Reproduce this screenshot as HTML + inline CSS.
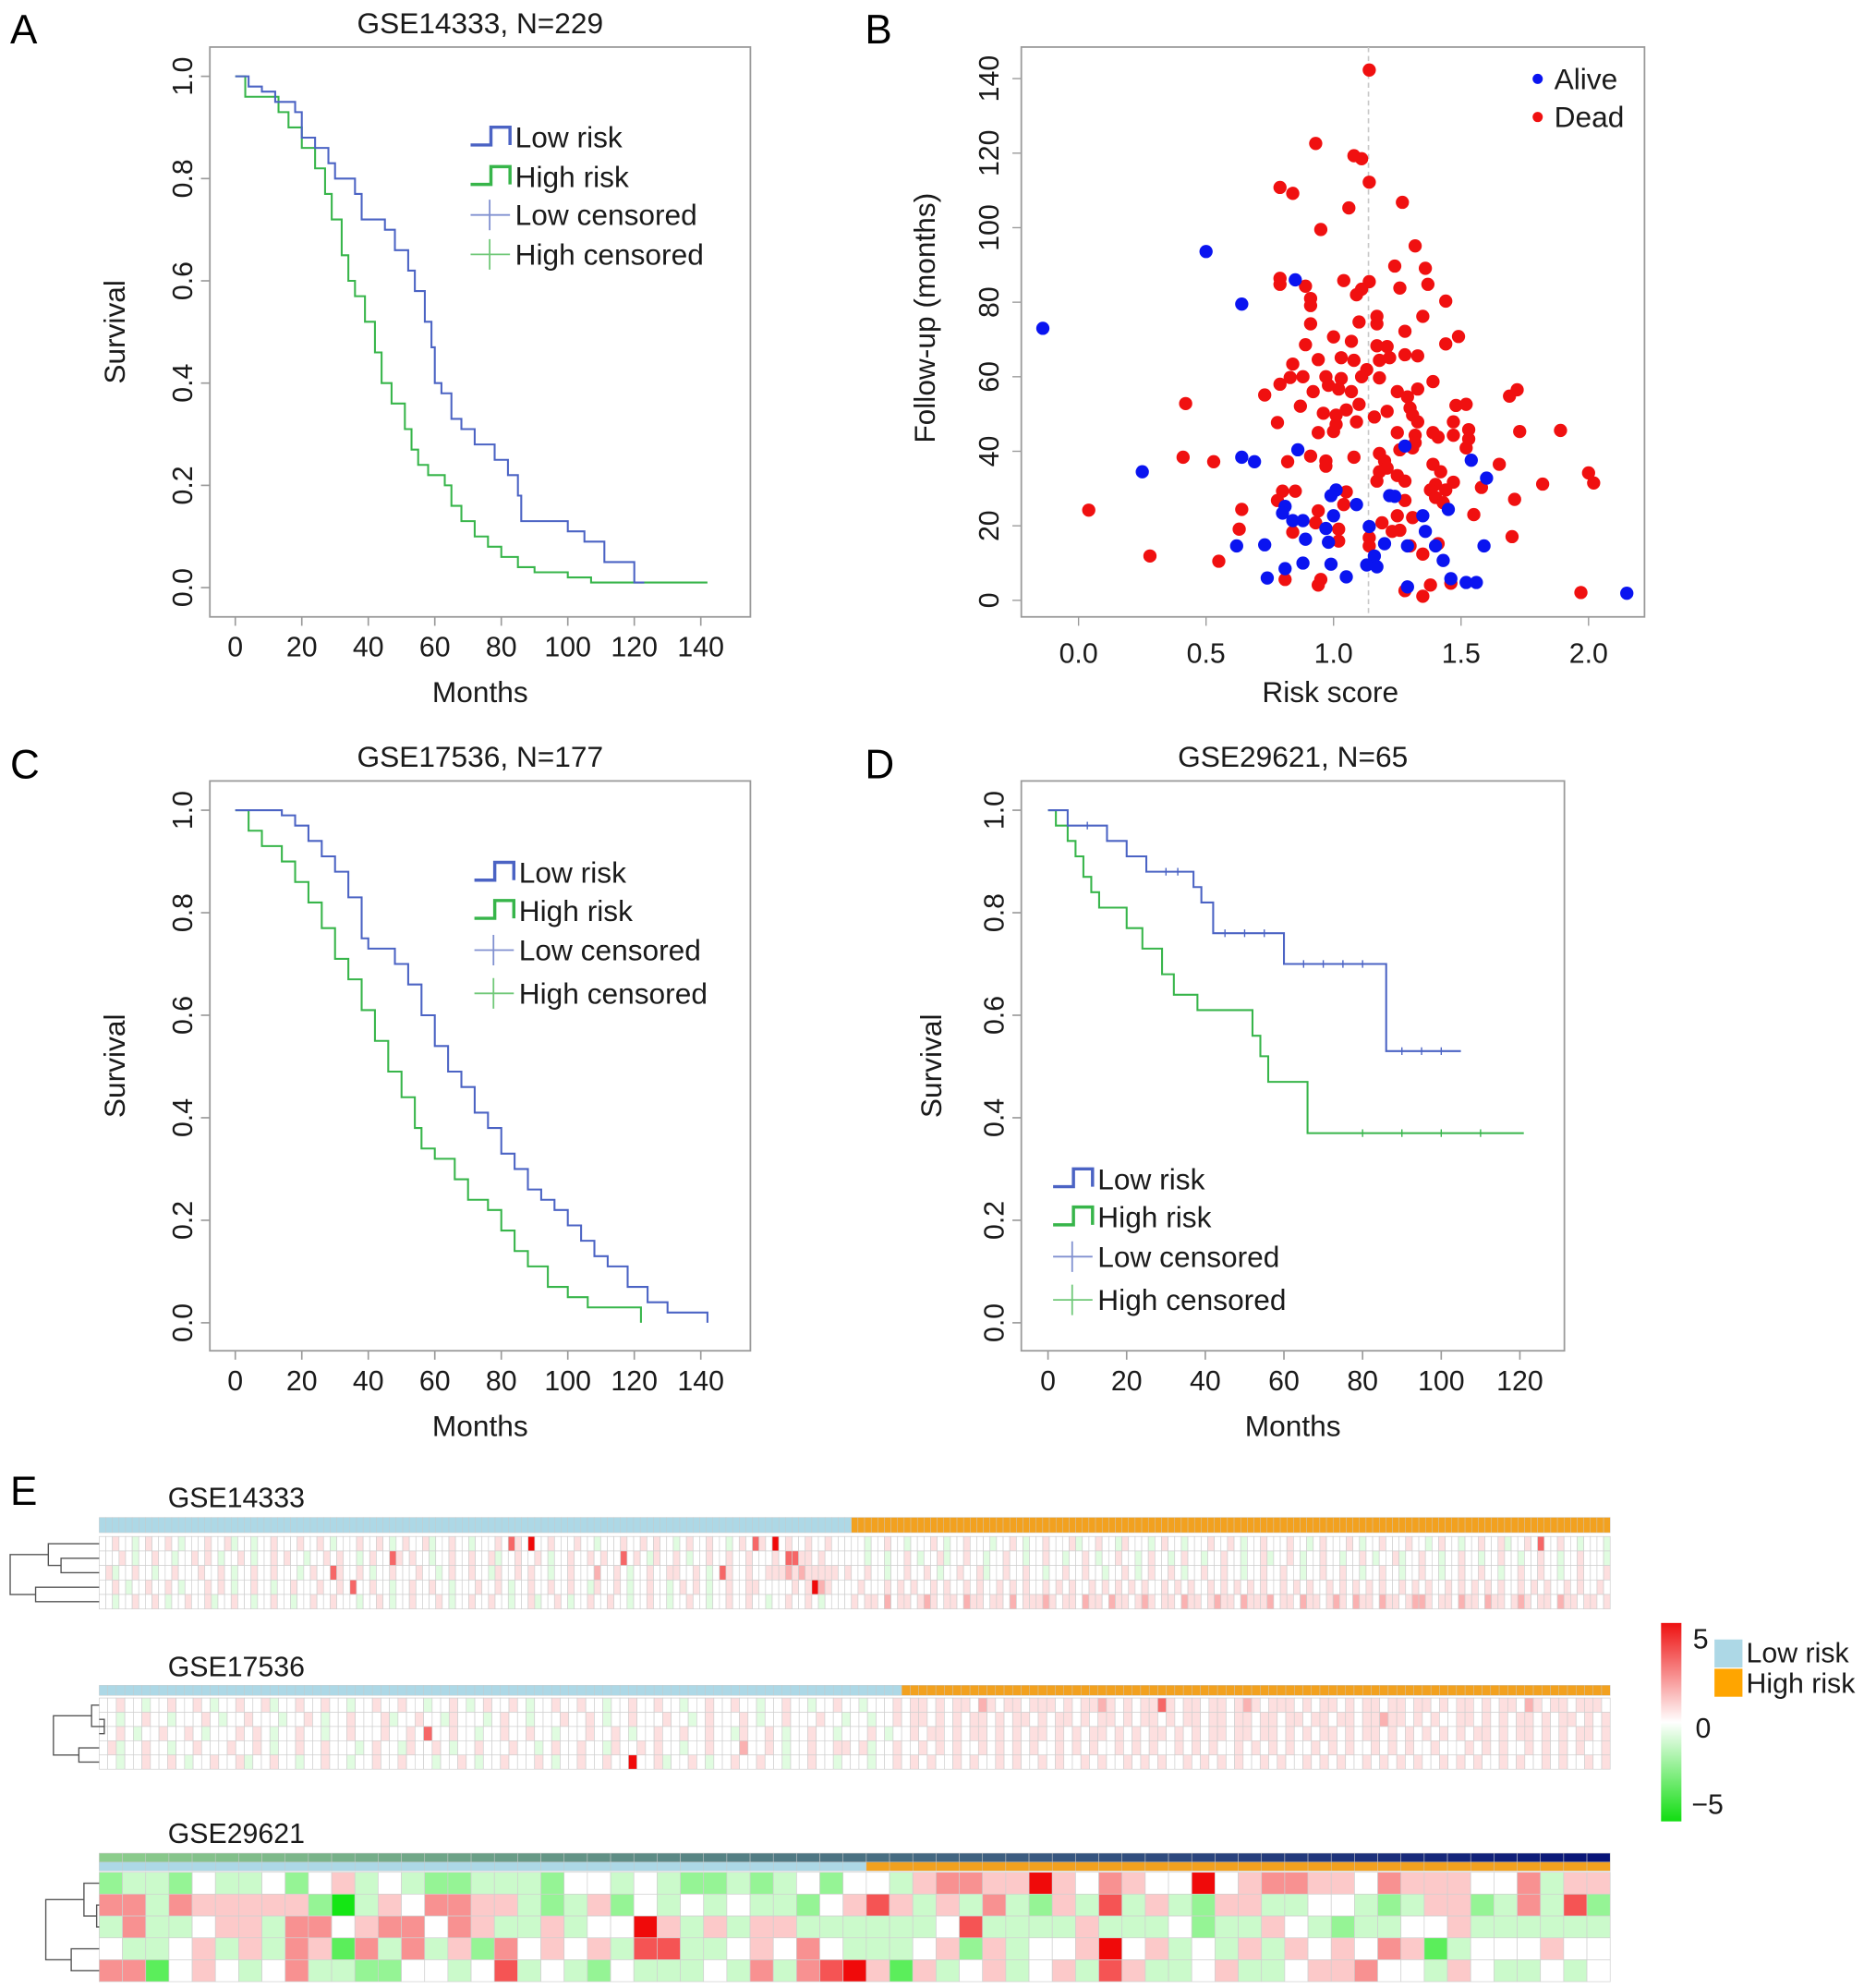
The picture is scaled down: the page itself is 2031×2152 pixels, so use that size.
<!DOCTYPE html>
<html><head><meta charset="utf-8"><title>Survival figure</title>
<style>
html,body{margin:0;padding:0;background:#fff;}
svg{display:block;font-family:"Liberation Sans",Arial,sans-serif;}
</style></head>
<body>
<svg id="fig" width="2031" height="2152" viewBox="0 0 1475 1563" preserveAspectRatio="none" xmlns="http://www.w3.org/2000/svg"></svg>
<script>
// ---------- DATA ----------
const aLowT=[0,4,8,12,18,20,24,28,30,36,38,45,48,52,54,57,59,60,62,65,68,72,78,82,85,86,100,105,111,120,123];
const aLowS=[1,0.98,0.97,0.95,0.93,0.88,0.86,0.83,0.80,0.77,0.72,0.70,0.66,0.62,0.58,0.52,0.47,0.40,0.38,0.33,0.31,0.28,0.25,0.22,0.18,0.13,0.11,0.09,0.05,0.01,0.01];
const aHighT=[0,3,13,16,20,24,27,29,32,34,36,39,42,44,47,51,53,55,58,63,65,68,72,76,80,85,90,100,107,142];
const aHighS=[1,0.96,0.93,0.90,0.86,0.82,0.77,0.72,0.65,0.60,0.57,0.52,0.46,0.40,0.36,0.31,0.27,0.24,0.22,0.20,0.16,0.13,0.10,0.08,0.06,0.04,0.03,0.02,0.01,0.01];
const cLowT=[0,14,18,22,26,30,34,38,40,48,52,56,60,64,68,72,76,80,84,88,92,96,100,104,108,112,118,124,130,142,142];
const cLowS=[1,0.99,0.97,0.94,0.91,0.88,0.83,0.75,0.73,0.70,0.66,0.60,0.54,0.49,0.46,0.41,0.38,0.33,0.30,0.26,0.24,0.22,0.19,0.16,0.13,0.11,0.07,0.04,0.02,0.02,0.0];
const cHighT=[0,4,8,14,18,22,26,30,34,38,42,46,50,54,56,60,66,70,76,80,84,88,94,100,106,122,122];
const cHighS=[1,0.96,0.93,0.90,0.86,0.82,0.77,0.71,0.67,0.61,0.55,0.49,0.44,0.38,0.34,0.32,0.28,0.24,0.22,0.18,0.14,0.11,0.07,0.05,0.03,0.03,0.0];
const dLowT=[0,5,15,20,25,37,39,42,60,86,105];
const dLowS=[1,0.97,0.94,0.91,0.88,0.85,0.82,0.76,0.70,0.53,0.53];
const dHighT=[0,2,5,7,9,11,13,20,24,29,32,38,52,54,56,66,121];
const dHighS=[1,0.97,0.94,0.91,0.87,0.84,0.81,0.77,0.73,0.68,0.64,0.61,0.56,0.52,0.47,0.37,0.37];
const dLowCens=[10,30,33,45,50,55,65,70,75,80,90,95,100];
const dHighCens=[80,90,100,110];
const aliveRisk=[0.50,-0.14,0.64,0.85,0.25,0.64,0.69,0.86,1.28,1.54,1.60,1.01,0.99,1.09,1.22,1.24,0.81,0.80,0.84,0.88,1.00,0.97,1.14,1.35,1.45,1.36,0.62,0.73,0.89,0.98,1.20,1.29,1.40,1.59,1.16,1.43,0.81,0.88,0.99,1.13,1.17,0.74,1.05,1.29,1.46,1.52,1.56,2.15];
const aliveMonths=[93.6,73,79.5,86,34.5,38.4,37.2,40.4,41.4,37.6,32.8,29.6,28.1,25.7,28.1,27.9,25.2,23.4,21.4,21.4,22.7,19.3,19.8,22.7,24.4,18.5,14.6,14.9,16.4,15.6,15.2,14.6,14.6,14.6,11.9,10.7,8.5,10,9.7,9.5,9,6,6.3,3.6,5.8,4.8,4.8,1.9];
const deadRisk=[1.14,0.93,1.08,1.11,1.14,0.79,0.84,1.27,1.06,0.95,1.32,1.24,1.36,0.79,0.79,1.04,1.14,1.11,1.09,0.89,1.26,1.37,0.91,0.91,1.44,1.35,0.91,1.10,1.17,1.17,1.28,1.00,1.07,1.49,1.44,0.89,1.17,1.21,1.28,1.33,0.94,1.03,1.08,1.18,1.22,0.84,1.13,0.83,0.88,0.97,1.03,1.11,1.18,0.79,0.92,0.98,1.02,1.07,1.39,0.73,1.25,1.29,1.33,1.69,1.72,0.42,0.87,1.05,1.10,1.30,1.48,1.52,0.96,1.01,1.21,1.16,1.31,0.78,1.01,1.09,1.33,1.47,0.94,1.00,1.25,1.32,1.39,1.41,1.47,1.53,1.53,1.73,1.89,1.32,1.52,0.41,0.53,0.82,0.91,0.97,0.97,1.08,1.18,1.20,1.26,1.31,1.39,1.42,1.65,2.00,2.02,1.18,1.21,1.25,1.17,1.28,1.47,1.82,1.40,1.38,1.44,1.58,0.80,0.85,1.05,1.40,1.28,0.78,1.04,1.71,0.64,0.04,0.94,1.43,1.55,1.25,1.31,0.93,1.02,1.19,0.63,0.84,1.23,1.26,1.02,1.14,1.70,1.14,1.30,1.41,1.35,0.28,0.55,0.81,0.95,0.94,1.38,1.46,1.28,1.35,1.97];
const deadMonths=[142.3,122.6,119.3,118.5,112.2,110.8,109.2,106.8,105.3,99.5,95.1,89.7,89.1,86.4,84.8,85.8,85.5,83.5,82,84.3,83.8,84.8,81,79.1,80.3,76.2,74.2,74.7,76.2,74.2,72.2,70.7,69.5,70.8,68.8,68.6,68.3,68.1,65.9,65.6,64.6,65.1,64.4,64.4,65.1,63.4,61.9,59.8,60,60,59.5,60,59.7,58,56,57.7,56.7,56,58.7,55.1,56,54.6,56.7,54.8,56.5,52.8,52.1,51.1,52.6,51.6,52.3,52.6,50.2,49.7,50.7,49.2,49.7,47.7,47.2,47.9,47.9,47.9,45,45.3,45,44.3,45,43.8,44.3,45.8,43.3,45.3,45.6,42.3,40.9,38.4,37.2,37.2,38.7,37.4,36,38.4,39.4,37.4,40.4,40.9,36.5,34.5,36.5,34.2,31.5,34.5,35.5,33.5,32,32,31.7,31.2,31.1,29.6,29.6,30.3,29.3,29.3,29.1,27.6,26.8,26.8,25.7,27.1,24.4,24.2,24,26.2,23,22.7,22.2,20.8,19.1,20.8,19.1,18.3,18.5,18.8,15.9,16.8,17.1,14.6,14.6,15.2,12.4,11.9,10.5,5.6,5.6,4.1,4.1,4.6,2.6,1.1,2.1];
const riskCutoff=1.137;
const hm1Low=[
"4454434544543444544534434454445445434445445434544534454434445475484454445443444544545443454454434547548454454454",
"4445434454434454543445434454544344545443454475454434454454453445445434454454544745435445434454454454445477554544",
"4534454434454445445434454454443454475445434454445443454454435445454434454446445434454455445434754454455565655555",
"4454344544543444545434454434454445445474454434454454434445445434454454454435445434454434545434454455444445458654",
"4434454454344544534454434454434454454443445434454445434454454434453445434454454434454434454434454454434454454344"];
const hm1High=[
"4434454434445434454443445434454445344544354443454434445445434454445443454445434454445443454434454453445474454434",
"4434434454344534454434454434454434454344544345443454434454434453445434454434454344534454434454434454434454434454",
"4454434454454344544534454454434454454434454345445434454454434454454434454454434454434454434454454434454454434454",
"4544454545445454454544545454454545445454545454454545445454545454454545445454545454454545445454545454454545445454",
"5455464554565455465545546455565455465546554565455465545655465556455465545654655465545665455465546554565455465545"];
const hm2Low=[
"4454434454454344544534454454434454454434454345445434454454434454454434454454434454434454434",
"4434454434445434454443445434454445344544354443454434445445434454445443454445434454445443",
"4454344544543444545434454434454445445474454434454454434445445434454454454435445434454434",
"4534454434454445445434454454443454435445434454445443454454435445454434454446445434454455",
"4434454454344544534454434454434454454443445434454445434454454484453445434454454434454434"];
const hm2High=[
"4554545546545545554545565454557545545545654555454554545545545545",
"4554545455454554545545455454554545545545545545545545545565545454",
"4545545455454545545454554545455454545545545545454554545545454545",
"4454545445454545445454544545454454545445454545445454544545454454",
"4545445454454544545445454454545445454545445454454545445454545445"];
const hm3Low=["233243342453432233324434322323424","663655555203546655323524343433245","363345536645664653353448535355333","433453536516363526454537733454643","661454346332244347343243334363678"];
const hm3High=["43566558546544845665546555446355","75353632537353255334432355236372","33347333353334233543233445333333","33452534458453435354546513444544","51534534537533453345564435433434"];

// ---------- HELPERS ----------
const svg=document.getElementById('fig');
const NS='http://www.w3.org/2000/svg';
function mk(tag,attrs,parent){const e=document.createElementNS(NS,tag);for(const k in attrs)e.setAttribute(k,attrs[k]);(parent||svg).appendChild(e);return e;}
function txt(x,y,s,size,opts){const o=Object.assign({x:x,y:y,'font-size':size,fill:'#1a1a1a'},opts||{});const t=mk('text',o);t.textContent=s;return t;}
function stepPath(ts,ss,fx,fy){let d='M'+fx(ts[0])+','+fy(ss[0]);for(let i=1;i<ts.length;i++){d+=' H'+fx(ts[i])+' V'+fy(ss[i]);}return d;}
const BLUE='#4b63c4',GREEN='#37b54a',AXIS='#9a9a9a';

function kmPanel(p){
  const g=mk('g',{});
  
  
  const box=mk('rect',{x:p.L,y:p.T,width:p.R-p.L,height:p.B-p.T,fill:'none',stroke:AXIS,'stroke-width':1.3},g);
  
  
  p.xticks.forEach(v=>{
    const tk=mk('line',{x1:p.fx(v),x2:p.fx(v),y1:p.B,y2:p.B+7,stroke:AXIS,'stroke-width':1.2},g);
    
    
    const tl=txt(p.fx(v),p.B+31,String(v),22,{'text-anchor':'middle'});g.appendChild(tl);
    
    
  });
  [0,0.2,0.4,0.6,0.8,1.0].forEach(v=>{
    const tk=mk('line',{x1:p.L-7,x2:p.L,y1:p.fy(v),y2:p.fy(v),stroke:AXIS,'stroke-width':1.2},g);
    
    
    const yy=p.fy(v);
    const tl=txt(p.L-14,yy,v.toFixed(1),22,{'text-anchor':'middle',transform:'rotate(-90 '+(p.L-14)+' '+yy+')'});g.appendChild(tl);
    
    
  });
  const tt=txt((p.L+p.R)/2,p.T-11,p.title,23,{'text-anchor':'middle'});g.appendChild(tt);
  
  
  const xl=txt((p.L+p.R)/2,p.B+67,'Months',23,{'text-anchor':'middle'});g.appendChild(xl);
  
  
  const cy=(p.T+p.B)/2;
  const yl=txt(p.ylx,cy,'Survival',23,{'text-anchor':'middle',transform:'rotate(-90 '+p.ylx+' '+cy+')'});g.appendChild(yl);
  
  
  const hl=mk('path',{d:stepPath(p.hT,p.hS,p.fx,p.fy),fill:'none',stroke:GREEN,'stroke-width':1.5},g);
  
  
  const ll=mk('path',{d:stepPath(p.lT,p.lS,p.fx,p.fy),fill:'none',stroke:BLUE,'stroke-width':1.5},g);
  
  
  (p.lc||[]).forEach(t=>{let s=p.lS[0];for(let i=0;i<p.lT.length;i++){if(p.lT[i]<=t)s=p.lS[i];}
    const c=mk('line',{x1:p.fx(t),x2:p.fx(t),y1:p.fy(s)-3,y2:p.fy(s)+3,stroke:BLUE,'stroke-width':1},g);
    
    });
  (p.hc||[]).forEach(t=>{let s=p.hS[0];for(let i=0;i<p.hT.length;i++){if(p.hT[i]<=t)s=p.hS[i];}
    const c=mk('line',{x1:p.fx(t),x2:p.fx(t),y1:p.fy(s)-3,y2:p.fy(s)+3,stroke:GREEN,'stroke-width':1},g);
    
    });
  const lx=p.legX, ly=p.legY;
  const labels=['Low risk','High risk','Low censored','High censored'];
  labels.forEach((lab,i)=>{
    const y=ly[i];
    let e;
    if(i<2){e=mk('path',{d:'M'+lx+','+(y+6)+' H'+(lx+16)+' V'+(y-8)+' H'+(lx+31)+' V'+(y+6),fill:'none',stroke:i==0?BLUE:GREEN,'stroke-width':2.5},g);}
    else{e=mk('path',{d:'M'+lx+','+y+' H'+(lx+31)+' M'+(lx+15)+','+(y-12)+' V'+(y+12),fill:'none',stroke:i==2?'#8090d0':'#70c878','stroke-width':1.3},g);}
    
    
    const t=txt(lx+35,y+8,lab,23,{});g.appendChild(t);
    
    
  });
}
const fxAC=t=>185+t*(551-185)/140;
kmPanel({name:'panel-a-km',L:165,R:590,T:37,B:485,fx:fxAC,fy:s=>462-s*402,xticks:[0,20,40,60,80,100,120,140],title:'GSE14333, N=229',ylx:98,lT:aLowT,lS:aLowS,hT:aHighT,hS:aHighS,legX:370,legY:[108,139,169,200]});
kmPanel({name:'panel-c-km',L:165,R:590,T:614,B:1062,fx:fxAC,fy:s=>1040-s*403,xticks:[0,20,40,60,80,100,120,140],title:'GSE17536, N=177',ylx:98,lT:cLowT,lS:cLowS,hT:cHighT,hS:cHighS,legX:373,legY:[686,716,747,781]});
kmPanel({name:'panel-d-km',L:803,R:1230,T:614,B:1062,fx:t=>824+t*(1195-824)/120,fy:s=>1040-s*403,xticks:[0,20,40,60,80,100,120],title:'GSE29621, N=65',ylx:740,lT:dLowT,lS:dLowS,hT:dHighT,hS:dHighS,lc:dLowCens,hc:dHighCens,legX:828,legY:[927,957,988,1022]});

(function(){
  const L=803,R=1293,T=37,B=485;
  const fx=r=>848+r*200.5, fy=m=>472-m*2.93;
  const g=mk('g',{});
  
  
  const box=mk('rect',{x:L,y:T,width:R-L,height:B-T,fill:'none',stroke:AXIS,'stroke-width':1.3},g);
  
  
  [0,0.5,1.0,1.5,2.0].forEach(v=>{
    const tk=mk('line',{x1:fx(v),x2:fx(v),y1:B,y2:B+7,stroke:AXIS},g);
    
    
    const t=txt(fx(v),B+36,v.toFixed(1),22,{'text-anchor':'middle'});g.appendChild(t);
    
    
  });
  [0,20,40,60,80,100,120,140].forEach(v=>{
    const y=fy(v);
    const tk=mk('line',{x1:L-7,x2:L,y1:y,y2:y,stroke:AXIS},g);
    
    
    const t=txt(785,y,String(v),22,{'text-anchor':'middle',transform:'rotate(-90 785 '+y+')'});g.appendChild(t);
    
    
  });
  const cut=mk('line',{x1:fx(riskCutoff),x2:fx(riskCutoff),y1:T,y2:B,stroke:'#c8c8c8','stroke-dasharray':'4,3','stroke-width':1.2},g);
  
  
  deadRisk.forEach((r,i)=>{
    const c=mk('circle',{cx:fx(r),cy:fy(deadMonths[i]),r:5.2,fill:'#f01010'},g);
    
    
  });
  aliveRisk.forEach((r,i)=>{
    const c=mk('circle',{cx:fx(r),cy:fy(aliveMonths[i]),r:5.2,fill:'#0a14f0'},g);
    
    
  });
  const xl=txt(1046,552,'Risk score',23,{'text-anchor':'middle'});g.appendChild(xl);
  
  
  const yl=txt(735,250,'Follow-up (months)',23,{'text-anchor':'middle',transform:'rotate(-90 735 250)'});g.appendChild(yl);
  
  
  [['Alive','#0a14f0',62],['Dead','#f01010',92]].forEach(l=>{
    const d=mk('circle',{cx:1209,cy:l[2],r:4,fill:l[1]},g);
    
    
    const t=txt(1222,l[2]+8,l[0],23,{});g.appendChild(t);
    
    
  });
})();

// ---------- HEATMAPS ----------
const TLEV=[0,0.13,0.32,0.62,1];
const TLEV3=[0,0.22,0.45,0.7,1];
function lvlColor(ch,lev){
  let v=parseInt(ch);if(isNaN(v))v=4;
  const k=Math.min(4,Math.abs(v-4));const t=lev[k];
  if(v>=4){const gb=Math.round(255*(1-t)+10*t);const r=Math.round(255-15*t);return 'rgb('+r+','+gb+','+gb+')';}
  const rb=Math.round(255*(1-t)+20*t);const gg=Math.round(255*(1-t)+230*t);return 'rgb('+rb+','+gg+','+rb+')';
}
function pad(s,n){s=s||'4';let o=s;while(o.length<n)o+=s;return o.slice(0,n);}
function heatmap(o){
  const g=mk('g',{});
  
  
  const N=o.nLow+o.nHigh, x0=78, x1=1266, cw=(x1-x0)/N;
  const lab=txt(132,o.labY,o.label,22,{});g.appendChild(lab);
  
  
  if(o.grad){
    for(let j=0;j<N;j++){const t=j/(N-1);
      const col='rgb('+Math.round(140*(1-t)+8*t)+','+Math.round(205*(1-t)+20*t)+','+Math.round(140*(1-t)+120*t)+')';
      const r=mk('rect',{x:x0+j*cw,y:o.grad[0],width:cw,height:o.grad[1]-o.grad[0],fill:col,stroke:'#c8c8c8','stroke-width':0.4},g);
      
      }
  }
  for(let j=0;j<N;j++){
    const r=mk('rect',{x:x0+j*cw,y:o.ann[0],width:cw,height:o.ann[1]-o.ann[0],fill:j<o.nLow?'#add8e6':'#f2a11f',stroke:'#c8c8c8','stroke-width':0.3},g);
    
    
  }
  const rh=(o.rows[1]-o.rows[0])/5;
  for(let i=0;i<5;i++){
    const s=pad(o.low[i],o.nLow)+pad(o.high[i],o.nHigh);
    for(let j=0;j<N;j++){
      const r=mk('rect',{x:x0+j*cw,y:o.rows[0]+i*rh,width:cw,height:rh,fill:lvlColor(s[j],o.lev),stroke:'#cfcfcf','stroke-width':0.5},g);
      
      
    }
  }
  const cy=i=>o.rows[0]+(i+0.5)*rh;
  const dx=o.dx;
  const d='M78,'+cy(1)+' H'+(dx+40)+' V'+cy(2)+' H78'+
          ' M78,'+cy(0)+' H'+(dx+30)+' V'+((cy(1)+cy(2))/2)+' H'+(dx+40)+
          ' M78,'+cy(3)+' H'+(dx+20)+' V'+cy(4)+' H78'+
          ' M'+(dx+30)+','+((cy(0)+cy(1.5))/2)+' H'+dx+' V'+((cy(3)+cy(4))/2)+' H'+(dx+20);
  const dp=mk('path',{d:d,fill:'none',stroke:'#555','stroke-width':1},g);
  
  
}
heatmap({name:'heatmap-gse14333',label:'GSE14333',labY:1185,nLow:114,nHigh:115,ann:[1193,1205],rows:[1208,1265],low:hm1Low,high:hm1High,dx:8,lev:TLEV});
heatmap({name:'heatmap-gse17536',label:'GSE17536',labY:1318,nLow:94,nHigh:83,ann:[1325,1333],rows:[1335,1391],low:hm2Low,high:hm2High,dx:42,lev:TLEV});
heatmap({name:'heatmap-gse29621',label:'GSE29621',labY:1449,nLow:33,nHigh:32,grad:[1457,1464],ann:[1464,1471],rows:[1472,1558],low:hm3Low,high:hm3High,dx:36,lev:TLEV3});

(function(){
  const defs=mk('defs',{});
  const lg=mk('linearGradient',{id:'cb',x1:0,y1:0,x2:0,y2:1},defs);
  [['0','#ee1111'],['0.5','#ffffff'],['1','#11dd11']].forEach(s=>mk('stop',{offset:s[0],'stop-color':s[1]},lg));
  const r=mk('rect',{x:1306,y:1276,width:16,height:156,fill:'url(#cb)'});
  
  
  [['5',1331,1296],['0',1333,1366],['\u22125',1330,1426]].forEach(l=>{
    const t=txt(l[1],l[2],l[0],22,{});
    
    
  });
  const a=mk('rect',{x:1348,y:1289,width:22,height:22,fill:'#add8e6'});
  
  
  const b=mk('rect',{x:1348,y:1312,width:22,height:22,fill:'#ffa500'});
  
  
  const t1=txt(1373,1307,'Low risk',22,{});
  
  
  const t2=txt(1373,1331,'High risk',22,{});
  
  
})();

[['A',8,34],['B',680,34],['C',8,612],['D',680,612],['E',8,1183]].forEach(l=>{
  const t=txt(l[1],l[2],l[0],32,{fill:'#000'});
  
  
});
</script>
</body></html>
